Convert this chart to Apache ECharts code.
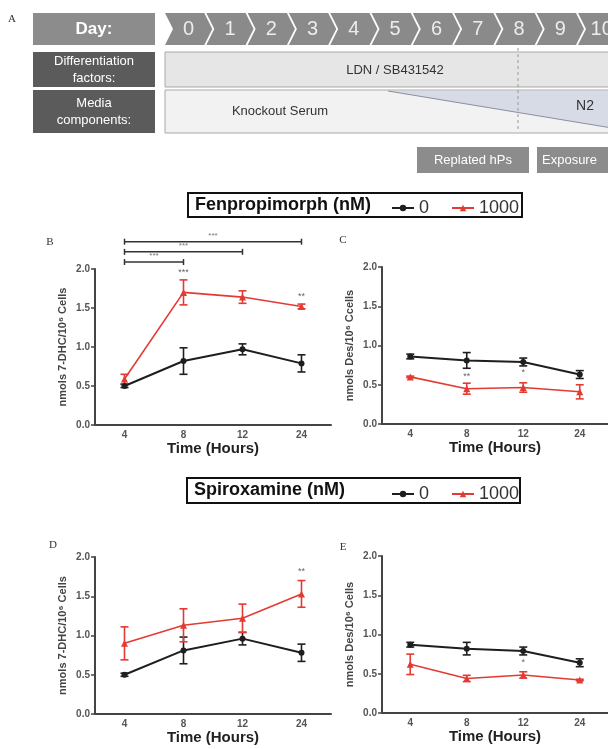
<!DOCTYPE html>
<html><head><meta charset="utf-8">
<script src="https://cdn.jsdelivr.net/npm/echarts@6/dist/echarts.min.js"></script>
<style>html,body{margin:0;padding:0;background:#fff}#c{width:608px;height:749px}</style>
</head><body><div id="c"></div>
<script>
// ---------- DATA ----------
const hours = ['4', '8', '12', '24'];
const days = ['0','1','2','3','4','5','6','7','8','9','10','11'];
const seriesNames = ['0', '1000'];

// B: Fenpropimorph, 7-DHC
const fenDhc0 = [0.50, 0.82, 0.97, 0.79];
const fenDhc0Err = [0.02, 0.17, 0.07, 0.11];
const fenDhc1000 = [0.59, 1.70, 1.64, 1.52];
const fenDhc1000Err = [0.06, 0.16, 0.08, 0.03];
// C: Fenpropimorph, Des
const fenDes0 = [0.86, 0.81, 0.79, 0.63];
const fenDes0Err = [0.03, 0.10, 0.05, 0.05];
const fenDes1000 = [0.60, 0.45, 0.465, 0.41];
const fenDes1000Err = [0.01, 0.07, 0.06, 0.09];
// D: Spiroxamine, 7-DHC
const spiDhc0 = [0.50, 0.81, 0.96, 0.78];
const spiDhc0Err = [0.02, 0.17, 0.08, 0.11];
const spiDhc1000 = [0.90, 1.13, 1.22, 1.53];
const spiDhc1000Err = [0.21, 0.21, 0.18, 0.17];
// E: Spiroxamine, Des
const spiDes0 = [0.87, 0.82, 0.79, 0.64];
const spiDes0Err = [0.03, 0.08, 0.05, 0.05];
const spiDes1000 = [0.62, 0.44, 0.485, 0.42];
const spiDes1000Err = [0.13, 0.04, 0.04, 0.01];

// significance marks: [categoryIndex, yValue, text]
const starsB = [[1, 1.96, '***'], [3, 1.65, '**']];
const starsC = [[1, 0.60, '**'], [2, 0.65, '*']];
const starsD = [[3, 1.81, '**']];
const starsE = [[2, 0.64, '*']];
// brackets in B: [fromIndex, toIndex, yValue, text]
const bracketsB = [[0, 3, 2.35, '***'], [0, 2, 2.22, '***'], [0, 1, 2.09, '***']];

const yNames = ['nmols 7-DHC/10\u2076 Cells', 'nmols Des/10\u2076 Ccells', 'nmols 7-DHC/10\u2076 Cells', 'nmols Des/10\u2076 Cells'];
const panelData = [
  [fenDhc0, fenDhc0Err, fenDhc1000, fenDhc1000Err, starsB],
  [fenDes0, fenDes0Err, fenDes1000, fenDes1000Err, starsC],
  [spiDhc0, spiDhc0Err, spiDhc1000, spiDhc1000Err, starsD],
  [spiDes0, spiDes0Err, spiDes1000, spiDes1000Err, starsE]
];

// ---------- STYLE ----------
const FONT = '"Liberation Sans", Arial, sans-serif';
const BLACK = '#1e1e1e';
const RED = '#e23b33';
const grids = [
  {left: 95, top: 269, width: 236, height: 156},
  {left: 382, top: 267, width: 238, height: 157},
  {left: 95, top: 557, width: 236, height: 157},
  {left: 382, top: 556, width: 238, height: 157}
];

function errRender(color) {
  return function (params, api) {
    const x = api.value(0);
    const p1 = api.coord([x, api.value(1)]);
    const p2 = api.coord([x, api.value(2)]);
    const cw = 4;
    const st = {stroke: color, lineWidth: 1.6};
    return {type: 'group', children: [
      {type: 'line', shape: {x1: p1[0], y1: p1[1], x2: p2[0], y2: p2[1]}, style: st},
      {type: 'line', shape: {x1: p1[0]-cw, y1: p1[1], x2: p1[0]+cw, y2: p1[1]}, style: st},
      {type: 'line', shape: {x1: p2[0]-cw, y1: p2[1], x2: p2[0]+cw, y2: p2[1]}, style: st}
    ]};
  };
}
function starRender(params, api) {
  const p = api.coord([api.value(0), api.value(1)]);
  return {type: 'text', x: p[0], y: p[1], style: {text: api.value(2), fill: '#666', font: '9px ' + FONT, align: 'center', verticalAlign: 'middle', textAlign: 'center', textVerticalAlign: 'middle'}};
}
function bracketRender(params, api) {
  const a = api.coord([api.value(0), api.value(2)]);
  const b = api.coord([api.value(1), api.value(2)]);
  const st = {stroke: '#333', lineWidth: 1.5};
  return {type: 'group', children: [
    {type: 'line', shape: {x1: a[0], y1: a[1], x2: b[0], y2: b[1]}, style: st},
    {type: 'line', shape: {x1: a[0], y1: a[1]-3, x2: a[0], y2: a[1]+3}, style: st},
    {type: 'line', shape: {x1: b[0], y1: b[1]-3, x2: b[0], y2: b[1]+3}, style: st},
    {type: 'text', x: (a[0]+b[0])/2, y: a[1]-6, style: {text: api.value(3), fill: '#777', font: '8px ' + FONT, align: 'center', verticalAlign: 'middle', textAlign: 'center', textVerticalAlign: 'middle'}}
  ]};
}

const xAxes = [], yAxes = [], series = [];
grids.forEach(function (g, i) {
  xAxes.push({
    type: 'category', gridIndex: i, data: hours, boundaryGap: true,
    name: 'Time (Hours)', nameLocation: 'middle', nameGap: 13,
    nameTextStyle: {fontFamily: FONT, fontWeight: 'bold', fontSize: 15, color: '#222', verticalAlign: 'top'},
    axisLine: {lineStyle: {color: '#444', width: 2}},
    axisTick: {alignWithLabel: true, length: 4, lineStyle: {color: '#444', width: 1.5}},
    axisLabel: {fontFamily: FONT, fontWeight: 'bold', fontSize: 10, color: '#555', margin: 5},
    splitLine: {show: false}
  });
  yAxes.push({
    type: 'value', gridIndex: i, min: 0, max: 2, interval: 0.5,
    name: yNames[i], nameLocation: 'middle', nameGap: 27, nameRotate: 90,
    nameTextStyle: {fontFamily: FONT, fontWeight: 'bold', fontSize: 11, color: '#444'},
    axisLine: {show: true, lineStyle: {color: '#444', width: 2}},
    axisTick: {show: true, length: 4, lineStyle: {color: '#444', width: 1.5}},
    axisLabel: {fontFamily: FONT, fontWeight: 'bold', fontSize: 10, color: '#555', margin: 5,
      formatter: function (v) { return v.toFixed(1); }},
    splitLine: {show: false}
  });
  const d = panelData[i];
  series.push({
    name: '0', type: 'line', xAxisIndex: i, yAxisIndex: i, data: d[0],
    symbol: 'circle', symbolSize: 6, color: BLACK,
    lineStyle: {color: BLACK, width: 2}, itemStyle: {color: BLACK}, z: 4
  });
  series.push({
    name: '1000', type: 'line', xAxisIndex: i, yAxisIndex: i, data: d[2],
    symbol: 'triangle', symbolSize: 7, color: RED,
    lineStyle: {color: RED, width: 1.6}, itemStyle: {color: RED}, z: 4
  });
  series.push({
    name: 'err0_' + i, type: 'custom', xAxisIndex: i, yAxisIndex: i, renderItem: errRender(BLACK), z: 3,
    itemStyle: {color: BLACK},
    data: d[0].map(function (v, k) { return [k, v - d[1][k], v + d[1][k]]; })
  });
  series.push({
    name: 'err1000_' + i, type: 'custom', xAxisIndex: i, yAxisIndex: i, renderItem: errRender(RED), z: 3,
    itemStyle: {color: RED},
    data: d[2].map(function (v, k) { return [k, v - d[3][k], v + d[3][k]]; })
  });
  series.push({
    name: 'sig' + i, type: 'custom', xAxisIndex: i, yAxisIndex: i, renderItem: starRender, z: 5,
    data: d[4]
  });
});
series.push({
  name: 'brackets', type: 'custom', xAxisIndex: 0, yAxisIndex: 0, renderItem: bracketRender, z: 5,
  data: bracketsB
});

// ---------- GRAPHICS (panel A, legend boxes, panel letters) ----------
const gfx = [];
function txt(x, y, text, font, fill, align) {
  gfx.push({type: 'text', x: x, y: y, z: 10, style: {text: text, font: font, fill: fill,
    align: align || 'center', verticalAlign: 'middle', textAlign: align || 'center', textVerticalAlign: 'middle', lineHeight: 17}});
}
function rect(x, y, w, h, fill, stroke, lw) {
  gfx.push({type: 'rect', shape: {x: x, y: y, width: w, height: h}, z: 1,
    style: {fill: fill, stroke: stroke || null, lineWidth: lw || 0}});
}
// Panel A
txt(12, 19, 'A', '11px "Liberation Serif", serif', '#333');
rect(33, 13, 122, 32, '#8c8c8c');
txt(94, 29, 'Day:', 'bold 17px ' + FONT, '#fff');
const chevX0 = 165, chevStep = 41.3, chevTop = 13, chevH = 32, notch = 8;
days.forEach(function (d, i) {
  const x = chevX0 + i * chevStep, w = chevStep - 2;
  gfx.push({type: 'polygon', z: 1, shape: {points: [[x, chevTop], [x + w, chevTop], [x + w + notch, chevTop + chevH / 2],
    [x + w, chevTop + chevH], [x, chevTop + chevH], [x + notch, chevTop + chevH / 2]]},
    style: {fill: '#8a8a8a'}});
  txt(x + notch / 2 + w / 2, chevTop + chevH / 2, d, '20px ' + FONT, '#ececec');
});
rect(33, 52, 122, 35, '#5b5b5b');
txt(94, 69.5, 'Differentiation\nfactors:', '13px ' + FONT, '#fff');
rect(165, 52, 450, 35, '#e6e6e6', '#a8a8a8', 1);
txt(395, 70, 'LDN / SB431542', '13px ' + FONT, '#333');
rect(33, 90, 122, 43, '#5b5b5b');
txt(94, 111.5, 'Media\ncomponents:', '13px ' + FONT, '#fff');
rect(165, 90, 450, 43, '#f2f2f2', '#a8a8a8', 1);
gfx.push({type: 'polygon', z: 2, shape: {points: [[388, 91], [612, 91], [612, 128]]}, style: {fill: '#d7dbe6'}});
gfx.push({type: 'line', z: 2, shape: {x1: 388, y1: 91, x2: 612, y2: 128}, style: {stroke: '#8a8f9a', lineWidth: 1}});
txt(280, 111, 'Knockout Serum', '13px ' + FONT, '#333');
txt(585, 106, 'N2', '14px ' + FONT, '#333');
gfx.push({type: 'line', z: 3, shape: {x1: 518, y1: 48, x2: 518, y2: 132}, style: {stroke: '#999', lineWidth: 1, lineDash: [3, 3]}});
rect(417, 147, 112, 26, '#8c8c8c');
txt(473, 160, 'Replated hPs', '13px ' + FONT, '#fff');
rect(537, 147, 90, 26, '#8c8c8c');
txt(542, 160, 'Exposure', '13px ' + FONT, '#fff', 'left');

// Legend boxes
rect(188, 193, 334, 24, '#fff', '#111', 2);
txt(195, 205, 'Fenpropimorph (nM)', 'bold 18px ' + FONT, '#111', 'left');
rect(187, 478, 333, 25, '#fff', '#111', 2);
txt(194, 490.5, 'Spiroxamine (nM)', 'bold 18px ' + FONT, '#111', 'left');

// Panel letters
txt(50, 242, 'B', '11px "Liberation Serif", serif', '#333');
txt(343, 240, 'C', '11px "Liberation Serif", serif', '#333');
txt(53, 545, 'D', '11px "Liberation Serif", serif', '#333');
txt(343, 547, 'E', '11px "Liberation Serif", serif', '#333');

const legendCommon = {
  data: seriesNames, orient: 'horizontal', itemWidth: 22, itemHeight: 8, itemGap: 22,
  selectedMode: false, textStyle: {fontFamily: FONT, fontSize: 18, color: '#333'}, z: 20
};

const option = {
  animation: false,
  backgroundColor: '#fff',
  grid: grids,
  xAxis: xAxes,
  yAxis: yAxes,
  legend: [
    Object.assign({left: 386, top: 194}, legendCommon),
    Object.assign({left: 386, top: 480}, legendCommon)
  ],
  graphic: {elements: gfx},
  series: series
};
const chart = echarts.init(document.getElementById('c'), null, {renderer: 'canvas'});
chart.setOption(option);
</script>
</body></html>
